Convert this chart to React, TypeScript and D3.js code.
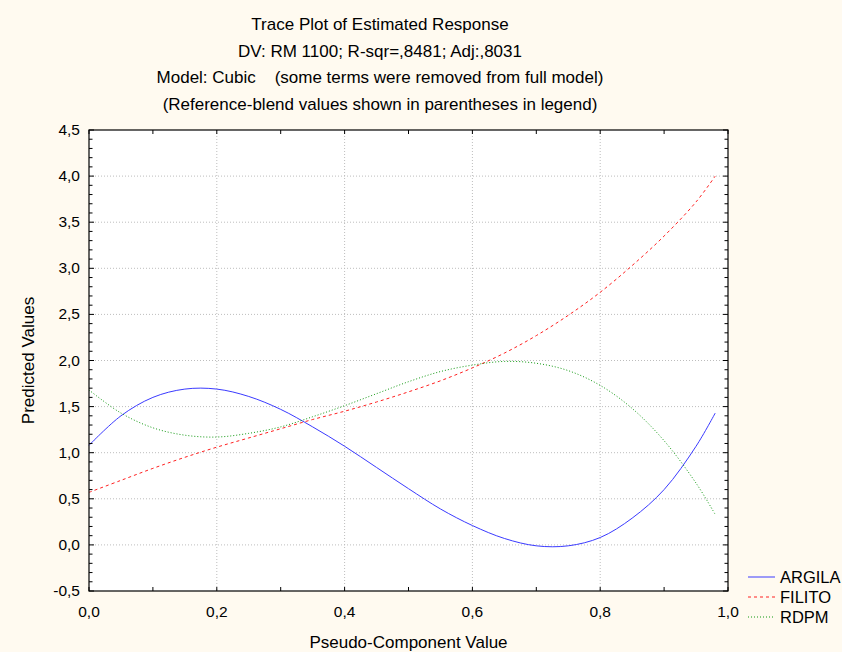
import React from "react";
import * as d3 from "d3";

// pseudo-component values at which the traces were read
const xs = [0, 0.05, 0.1, 0.15, 0.2, 0.25, 0.3, 0.35, 0.4, 0.45, 0.5, 0.55, 0.6, 0.65, 0.7, 0.75, 0.8, 0.85, 0.9, 0.95, 0.98];
const argila = [1.08, 1.4, 1.6, 1.69, 1.69, 1.61, 1.47, 1.28, 1.07, 0.84, 0.61, 0.39, 0.21, 0.07, -0.01, -0.01, 0.08, 0.29, 0.6, 1.07, 1.43];
const filito = [0.57, 0.7, 0.83, 0.95, 1.06, 1.16, 1.26, 1.36, 1.45, 1.55, 1.66, 1.78, 1.92, 2.08, 2.27, 2.49, 2.74, 3.03, 3.35, 3.72, 4.0];
const rdpm = [1.68, 1.43, 1.27, 1.19, 1.17, 1.21, 1.28, 1.39, 1.51, 1.64, 1.77, 1.88, 1.95, 1.99, 1.97, 1.89, 1.73, 1.48, 1.13, 0.67, 0.33];

const xTicks = [0, 0.2, 0.4, 0.6, 0.8, 1.0];
const yTicks = [-0.5, 0, 0.5, 1, 1.5, 2, 2.5, 3, 3.5, 4, 4.5];
const xGrid = [0.2, 0.4, 0.6, 0.8];
const yGrid = [0, 0.5, 1, 1.5, 2, 2.5, 3, 3.5, 4];

const titleLines = [
  "Trace Plot of Estimated Response",
  "DV: RM 1100; R-sqr=,8481; Adj:,8031",
  "Model: Cubic    (some terms were removed from full model)",
  "(Reference-blend values shown in parentheses in legend)",
];

const seriesNames = ["ARGILA", "FILITO", "RDPM"];
const seriesData = [argila, filito, rdpm];
const seriesColors = ["#3a3aff", "#ff2020", "#119911"];
const seriesDash = ["none", "3,3", "1,2"];

const W = 842;
const H = 652;
const margin = { top: 130, right: 114, bottom: 61, left: 89 };
const font = "'Liberation Sans', Arial, sans-serif";

const fmt = (v: number) => v.toFixed(1).replace(".", ",");

export default function App() {
  const x = d3.scaleLinear().domain([0, 1]).range([margin.left, W - margin.right]);
  const y = d3.scaleLinear().domain([-0.5, 4.5]).range([H - margin.bottom, margin.top]);

  const line = d3
    .line<number>()
    .x((_, i) => x(xs[i]))
    .y((d) => y(d))
    .curve(d3.curveCatmullRom.alpha(0.5));

  const x0 = x(0), x1 = x(1), y0 = y(-0.5), y1 = y(4.5);

  const xMinor = d3.range(0, 11).map((i) => i / 10);
  const yMinor = d3.range(0, 51).map((i) => -0.5 + i / 10);

  return (
    <svg
      width={W}
      height={H}
      style={{ position: "absolute", left: 0, top: 0, display: "block" }}
      fontFamily={font}
    >
      <rect width={W} height={H} fill="#fffaf0" />
      <rect x={x0} y={y1} width={x1 - x0} height={y0 - y1} fill="#ffffff" />

      {/* grid */}
      {xGrid.map((v) => (
        <line key={"gx" + v} x1={x(v)} x2={x(v)} y1={y1} y2={y0} stroke="#bdbdbd" strokeDasharray="1,2" />
      ))}
      {yGrid.map((v) => (
        <line key={"gy" + v} x1={x0} x2={x1} y1={y(v)} y2={y(v)} stroke="#bdbdbd" strokeDasharray="1,2" />
      ))}

      {/* series */}
      {seriesData.map((d, i) => (
        <path
          key={seriesNames[i]}
          d={line(d) || ""}
          fill="none"
          stroke={seriesColors[i]}
          strokeWidth={1}
          strokeDasharray={seriesDash[i]}
        />
      ))}

      {/* ticks, inward on all four sides */}
      {xMinor.map((v, i) => (
        <g key={"tx" + i} stroke="#000">
          <line x1={x(v)} x2={x(v)} y1={y0} y2={y0 - 4} />
          <line x1={x(v)} x2={x(v)} y1={y1} y2={y1 + 4} />
        </g>
      ))}
      {yMinor.map((v, i) => {
        const len = i % 5 === 0 ? 5 : 3.5;
        return (
          <g key={"ty" + i} stroke="#000">
            <line x1={x0} x2={x0 + len} y1={y(v)} y2={y(v)} />
            <line x1={x1} x2={x1 - len} y1={y(v)} y2={y(v)} />
          </g>
        );
      })}

      <rect x={x0} y={y1} width={x1 - x0} height={y0 - y1} fill="none" stroke="#000" strokeWidth={1.2} />

      {/* tick labels */}
      {xTicks.map((v) => (
        <text key={"lx" + v} x={x(v)} y={y0 + 26} textAnchor="middle" fontSize={15.5} fill="#000">
          {fmt(v)}
        </text>
      ))}
      {yTicks.map((v) => (
        <text key={"ly" + v} x={x0 - 9} y={y(v) + 5} textAnchor="end" fontSize={15.5} fill="#000">
          {fmt(v)}
        </text>
      ))}

      {/* titles */}
      {titleLines.map((t, i) => (
        <text key={"t" + i} x={380} y={30 + i * 26.7} textAnchor="middle" fontSize={17} fill="#000" style={{ whiteSpace: "pre" }}>
          {t}
        </text>
      ))}

      <text x={(x0 + x1) / 2} y={648} textAnchor="middle" fontSize={17} fill="#000">
        Pseudo-Component Value
      </text>
      <text
        transform={`translate(34, ${(y0 + y1) / 2}) rotate(-90)`}
        textAnchor="middle"
        fontSize={17}
        fill="#000"
      >
        Predicted Values
      </text>

      {/* legend */}
      {seriesNames.map((n, i) => (
        <g key={"lg" + n} transform={`translate(748, ${577 + i * 20})`}>
          <line x1={0} x2={27} y1={0} y2={0} stroke={seriesColors[i]} strokeDasharray={seriesDash[i]} />
          <text x={32} y={6} fontSize={16.5} fill="#000">
            {n}
          </text>
        </g>
      ))}
    </svg>
  );
}
